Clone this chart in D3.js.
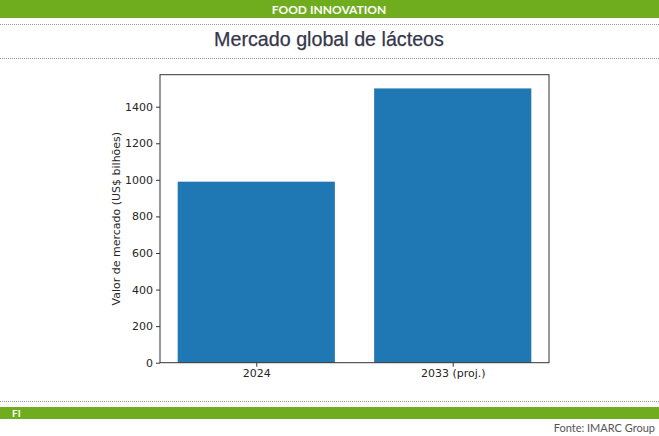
<!DOCTYPE html>
<html><head><meta charset="utf-8">
<script src="https://cdn.jsdelivr.net/npm/d3@7"></script>
<style>
html,body{margin:0;padding:0;background:#fff;}
svg{display:block;}
</style></head>
<body>
<script>
const categories = ["2024", "2033 (proj.)"];
const values = [990, 1500];
const yTicks = [0, 200, 400, 600, 800, 1000, 1200, 1400];
const title = "Mercado global de lácteos";
const yLabel = "Valor de mercado (US$ bilhões)";
const header = "FOOD INNOVATION";
const source = "Fonte: IMARC Group";

const W = 659, H = 436;
const svg = d3.select("body").append("svg").attr("width", W).attr("height", H);
const green = "#70ad1e";

// header band
svg.append("rect").attr("x",0).attr("y",0).attr("width",W).attr("height",18).attr("fill",green);
svg.append("text").attr("x",329).attr("y",13.5).attr("text-anchor","middle")
  .attr("fill","#fff").attr("font-family","Lato, 'Open Sans', sans-serif").attr("font-weight","bold")
  .attr("font-size",12).text(header);
svg.append("line").attr("x1",0).attr("x2",W).attr("y1",24.5).attr("y2",24.5)
  .attr("stroke","#999").attr("stroke-dasharray","1,1");
svg.append("text").attr("x",329).attr("y",45.5).attr("text-anchor","middle")
  .attr("fill","#36364a").attr("font-family","'Liberation Sans', Arial, sans-serif")
  .attr("font-size",19.7).attr("stroke","#36364a").attr("stroke-width",0.25).text(title);
svg.append("line").attr("x1",0).attr("x2",W).attr("y1",58.5).attr("y2",58.5)
  .attr("stroke","#999").attr("stroke-dasharray","1,1");

// chart
const L = 160, R = 549, T = 74.7, B = 362.7;
const x = d3.scaleLinear().domain([-0.49, 1.49]).range([L, R]);
const y = d3.scaleLinear().domain([0, 1575]).range([B, T]);
const g = svg.append("g");
g.selectAll("rect.bar").data(values).join("rect").attr("class","bar")
  .attr("x",(d,i)=>x(i-0.4)).attr("width",(d,i)=>x(i+0.4)-x(i-0.4))
  .attr("y",d=>y(d)).attr("height",d=>B-y(d)).attr("fill","#1f77b4");

const font = "'DejaVu Sans', sans-serif";
const yAxis = g.append("g").attr("transform",`translate(${L},0)`)
  .call(d3.axisLeft(y).tickValues(yTicks).tickSize(4).tickPadding(3).tickFormat(d3.format("d")));
const xAxis = g.append("g").attr("transform",`translate(0,${B})`)
  .call(d3.axisBottom(x).tickValues([0,1]).tickSize(4).tickPadding(3).tickFormat(i=>categories[i]));
[yAxis,xAxis].forEach(a=>{
  a.select(".domain").remove();
  a.selectAll("line").attr("stroke","#333");
  a.selectAll("text").attr("font-family",font).attr("font-size",11).attr("fill","#262626");
});
g.append("rect").attr("x",L).attr("y",T).attr("width",R-L).attr("height",B-T)
  .attr("fill","none").attr("stroke","#333").attr("stroke-width",1);
svg.append("text").attr("transform",`translate(120,${(T+B)/2}) rotate(-90)`)
  .attr("text-anchor","middle").attr("font-family",font).attr("font-size",11)
  .attr("fill","#262626").text(yLabel);

// footer
svg.append("line").attr("x1",0).attr("x2",W).attr("y1",401.5).attr("y2",401.5)
  .attr("stroke","#999").attr("stroke-dasharray","1,1");
svg.append("rect").attr("x",0).attr("y",407).attr("width",W).attr("height",12).attr("fill",green);
svg.append("text").attr("x",12).attr("y",417).attr("fill","#fff")
  .attr("font-family","Lato, sans-serif").attr("font-weight","bold").attr("font-size",10).text("FI");
svg.append("text").attr("x",655).attr("y",432).attr("text-anchor","end")
  .attr("fill","#555").attr("font-family","Lato, 'Open Sans', sans-serif")
  .attr("font-size",11).text(source);
</script>
</body></html>
